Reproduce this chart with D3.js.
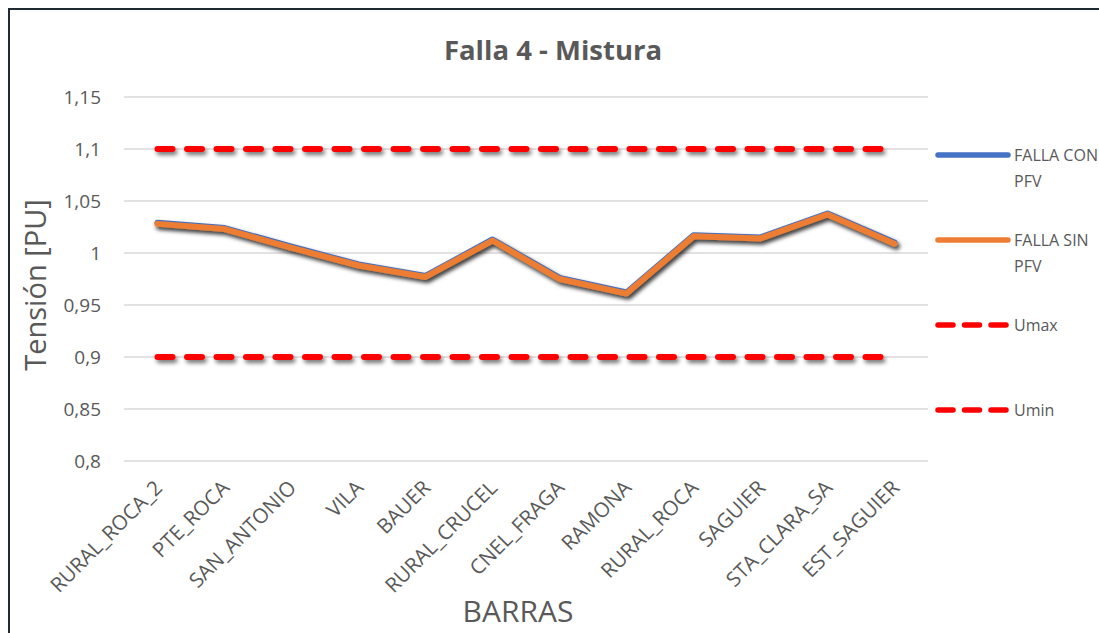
<!DOCTYPE html>
<html>
<head>
<meta charset="utf-8">
<script src="https://cdn.jsdelivr.net/npm/d3@7"></script>
<style>
  html, body { margin: 0; padding: 0; background: #fff; }
  svg { display: block; font-family: "Open Sans", Lato, sans-serif; }
</style>
</head>
<body>
<svg id="chart" width="1099" height="633"></svg>
<script>
// Bus names along the x axis
const categories = ["RURAL_ROCA_2", "PTE_ROCA", "SAN_ANTONIO", "VILA", "BAUER", "RURAL_CRUCEL",
  "CNEL_FRAGA", "RAMONA", "RURAL_ROCA", "SAGUIER", "STA_CLARA_SA", "EST_SAGUIER"];

// Voltage per bus [PU]
const fallaConPFV = [1.029, 1.024, 1.006, 0.989, 0.978, 1.013, 0.976, 0.962, 1.017, 1.015, 1.038, 1.010];
const fallaSinPFV = [1.028, 1.023, 1.005, 0.988, 0.977, 1.012, 0.975, 0.961, 1.016, 1.014, 1.037, 1.009];

// Voltage limits
const uMax = categories.map(() => 1.1);
const uMin = categories.map(() => 0.9);

const yTicks = [0.8, 0.85, 0.9, 0.95, 1, 1.05, 1.1, 1.15];
const yTickLabels = ["0,8", "0,85", "0,9", "0,95", "1", "1,05", "1,1", "1,15"];

const legendItems = [
  { lines: ["FALLA CON", "PFV"], color: "#4472c4", dash: false },
  { lines: ["FALLA SIN", "PFV"], color: "#ed7d31", dash: false },
  { lines: ["Umax"], color: "#ff0000", dash: true },
  { lines: ["Umin"], color: "#ff0000", dash: true }
];

const svg = d3.select("#chart");
const plot = { left: 124, right: 928, top: 97, bottom: 461 };
const textColor = "#595959";
const font = "'Open Sans', Lato, sans-serif";

// Drop shadow under the series (user-space region so flat lines keep it)
const defs = svg.append("defs");
const f = defs.append("filter").attr("id", "shadow")
  .attr("filterUnits", "userSpaceOnUse")
  .attr("x", 0).attr("y", 0).attr("width", 1099).attr("height", 633);
f.append("feDropShadow").attr("dx", 2).attr("dy", 3).attr("stdDeviation", 2.2)
  .attr("flood-color", "#000").attr("flood-opacity", 0.55);

// Outer frame
svg.append("rect").attr("x", 9).attr("y", 9).attr("width", 1100).attr("height", 640)
  .attr("fill", "#fff").attr("stroke", "#1f2a33").attr("stroke-width", 2);

const x = d3.scaleBand().domain(categories).range([plot.left, plot.right]);
const y = d3.scaleLinear().domain([0.8, 1.15]).range([plot.bottom, plot.top]);
const cx = d => x(d) + x.bandwidth() / 2;

// Gridlines
svg.append("g").selectAll("line").data(yTicks).join("line")
  .attr("x1", plot.left).attr("x2", plot.right)
  .attr("y1", d => y(d)).attr("y2", d => y(d))
  .attr("stroke", "#d9d9d9").attr("stroke-width", 1.3);

// Y axis labels
const yAxis = d3.axisLeft(y).tickValues(yTicks)
  .tickFormat((d, i) => yTickLabels[i]).tickSize(0).tickPadding(0);
const gy = svg.append("g").attr("transform", `translate(101,0)`).call(yAxis);
gy.select(".domain").remove();
gy.selectAll("text").attr("fill", textColor).style("font-size", "19px")
  .style("font-family", font);

// X axis labels, rotated
const xAxis = d3.axisBottom(x).tickSize(0).tickPadding(0);
const gx = svg.append("g").attr("transform", `translate(0,${plot.bottom})`).call(xAxis);
gx.select(".domain").remove();
gx.selectAll("text")
  .attr("fill", textColor).style("font-size", "20.5px")
  .style("font-family", font)
  .attr("text-anchor", "end")
  .attr("transform", "translate(1,23) rotate(-45)")
  .attr("dy", "0.35em").attr("y", 0).attr("x", 0);

const line = d3.line().x((d, i) => cx(categories[i])).y(d => y(d));

function drawSeries(values, color, width, dashed) {
  svg.append("path").datum(values)
    .attr("d", line)
    .attr("fill", "none")
    .attr("stroke", color)
    .attr("stroke-width", width)
    .attr("stroke-linecap", "round")
    .attr("stroke-linejoin", "round")
    .attr("stroke-dasharray", dashed ? "15,14.5" : null)
    .attr("filter", "url(#shadow)");
}

drawSeries(uMax, "#ff0000", 6, true);
drawSeries(uMin, "#ff0000", 6, true);
drawSeries(fallaConPFV, "#4472c4", 6, false);
drawSeries(fallaSinPFV, "#ed7d31", 6, false);

// Title
svg.append("text").attr("x", 553).attr("y", 60).attr("text-anchor", "middle")
  .attr("fill", textColor).style("font-size", "27.5px").style("font-weight", "bold")
  .text("Falla 4 - Mistura");

// Axis titles
svg.append("text").attr("transform", "translate(46,285) rotate(-90)")
  .attr("text-anchor", "middle").attr("fill", textColor).style("font-size", "29px")
  .text("Tensión [PU]");
svg.append("text").attr("x", 518).attr("y", 622).attr("text-anchor", "middle")
  .attr("fill", textColor).style("font-size", "30px").text("BARRAS");

// Legend
const legendY = [155, 240, 325, 410];
const lg = svg.append("g");
legendItems.forEach((item, i) => {
  const g = lg.append("g").attr("transform", `translate(0,${legendY[i]})`);
  g.append("line").attr("x1", 938).attr("x2", 1008).attr("y1", 0).attr("y2", 0)
    .attr("stroke", item.color).attr("stroke-width", 5.5)
    .attr("stroke-linecap", "round")
    .attr("stroke-dasharray", item.dash ? "15,11.5" : null);
  item.lines.forEach((t, j) => {
    g.append("text").attr("x", 1014).attr("y", j * 26 + 6)
      .attr("fill", textColor).style("font-size", "16px").text(t);
  });
});
</script>
</body>
</html>
